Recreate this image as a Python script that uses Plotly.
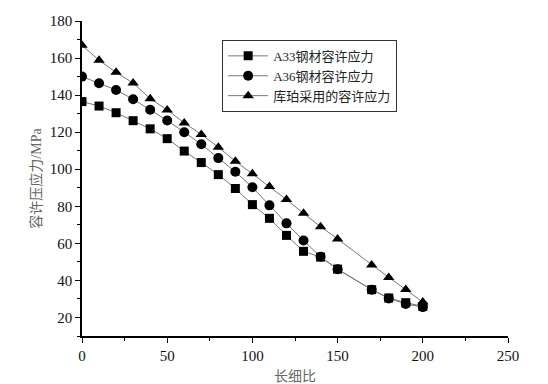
import plotly.graph_objects as go

x_vals = [0, 10, 20, 30, 40, 50, 60, 70, 80, 90, 100, 110, 120, 130, 140, 150, 170, 180, 190, 200]
a33 = [136.5, 134.1, 130.5, 126.2, 121.8, 116.5, 109.8, 103.6, 97.1, 89.6, 80.9, 73.5, 64.3, 55.7, 52.6, 46.1, 35.0, 30.5, 28.0, 26.0]
a36 = [150.0, 146.4, 142.8, 137.8, 132.1, 126.3, 120.0, 113.5, 106.0, 98.6, 90.3, 80.5, 70.8, 61.5, 52.8, 46.0, 35.0, 30.3, 27.3, 25.6]
kubo = [166.9, 158.8, 152.3, 146.5, 138.1, 132.0, 125.0, 118.8, 111.9, 104.3, 97.5, 90.7, 83.6, 76.2, 69.0, 62.4, 48.3, 41.6, 35.1, 28.3]
names = ["A33钢材容许应力", "A36钢材容许应力", "库珀采用的容许应力"]
symbols = ["square", "circle", "triangle-up"]

font_fam = "Liberation Serif, Times New Roman, Noto Sans CJK SC, serif"

fig = go.Figure()
for ys, nm, sym in zip([a33, a36, kubo], names, symbols):
    fig.add_trace(go.Scatter(
        x=x_vals, y=ys, name=nm, mode="lines+markers",
        line=dict(color="#777777", width=1),
        marker=dict(symbol=sym, size=10 if sym != "square" else 9, color="black"),
    ))

axis_common = dict(
    showline=True, linecolor="black", linewidth=1.5, mirror=False,
    ticks="outside", ticklen=5, tickwidth=1.2, tickcolor="black",
    showgrid=False, zeroline=False, automargin=False,
    tickfont=dict(family=font_fam, size=15, color="#111"),
)

# page body has an 8px default margin, so the figure is 8px smaller and offset
fig.update_layout(
    width=540, height=376,
    margin=dict(l=74, r=40, t=13, b=48),
    paper_bgcolor="white", plot_bgcolor="white",
    font=dict(family=font_fam, size=14, color="#222"),
    xaxis=dict(range=[0, 250], dtick=50, tick0=0,
               minor=dict(dtick=25, ticks="outside", ticklen=3, tickcolor="black"),
               title=dict(text="长细比", font=dict(size=14, color="#666"), standoff=12),
               **axis_common),
    yaxis=dict(range=[10, 180], dtick=20, tick0=20,
               minor=dict(dtick=10, ticks="outside", ticklen=3, tickcolor="black"),
               title=dict(text="容许压应力/MPa", font=dict(size=14, color="#666"), standoff=5),
               **axis_common),
    legend=dict(x=0.329, y=0.94, xanchor="left", yanchor="top",
                bordercolor="#333", borderwidth=1, bgcolor="white",
                font=dict(family=font_fam, size=13, color="#222"),
                tracegroupgap=0, itemwidth=40),
    showlegend=True,
)

fig.write_html("out.html")
